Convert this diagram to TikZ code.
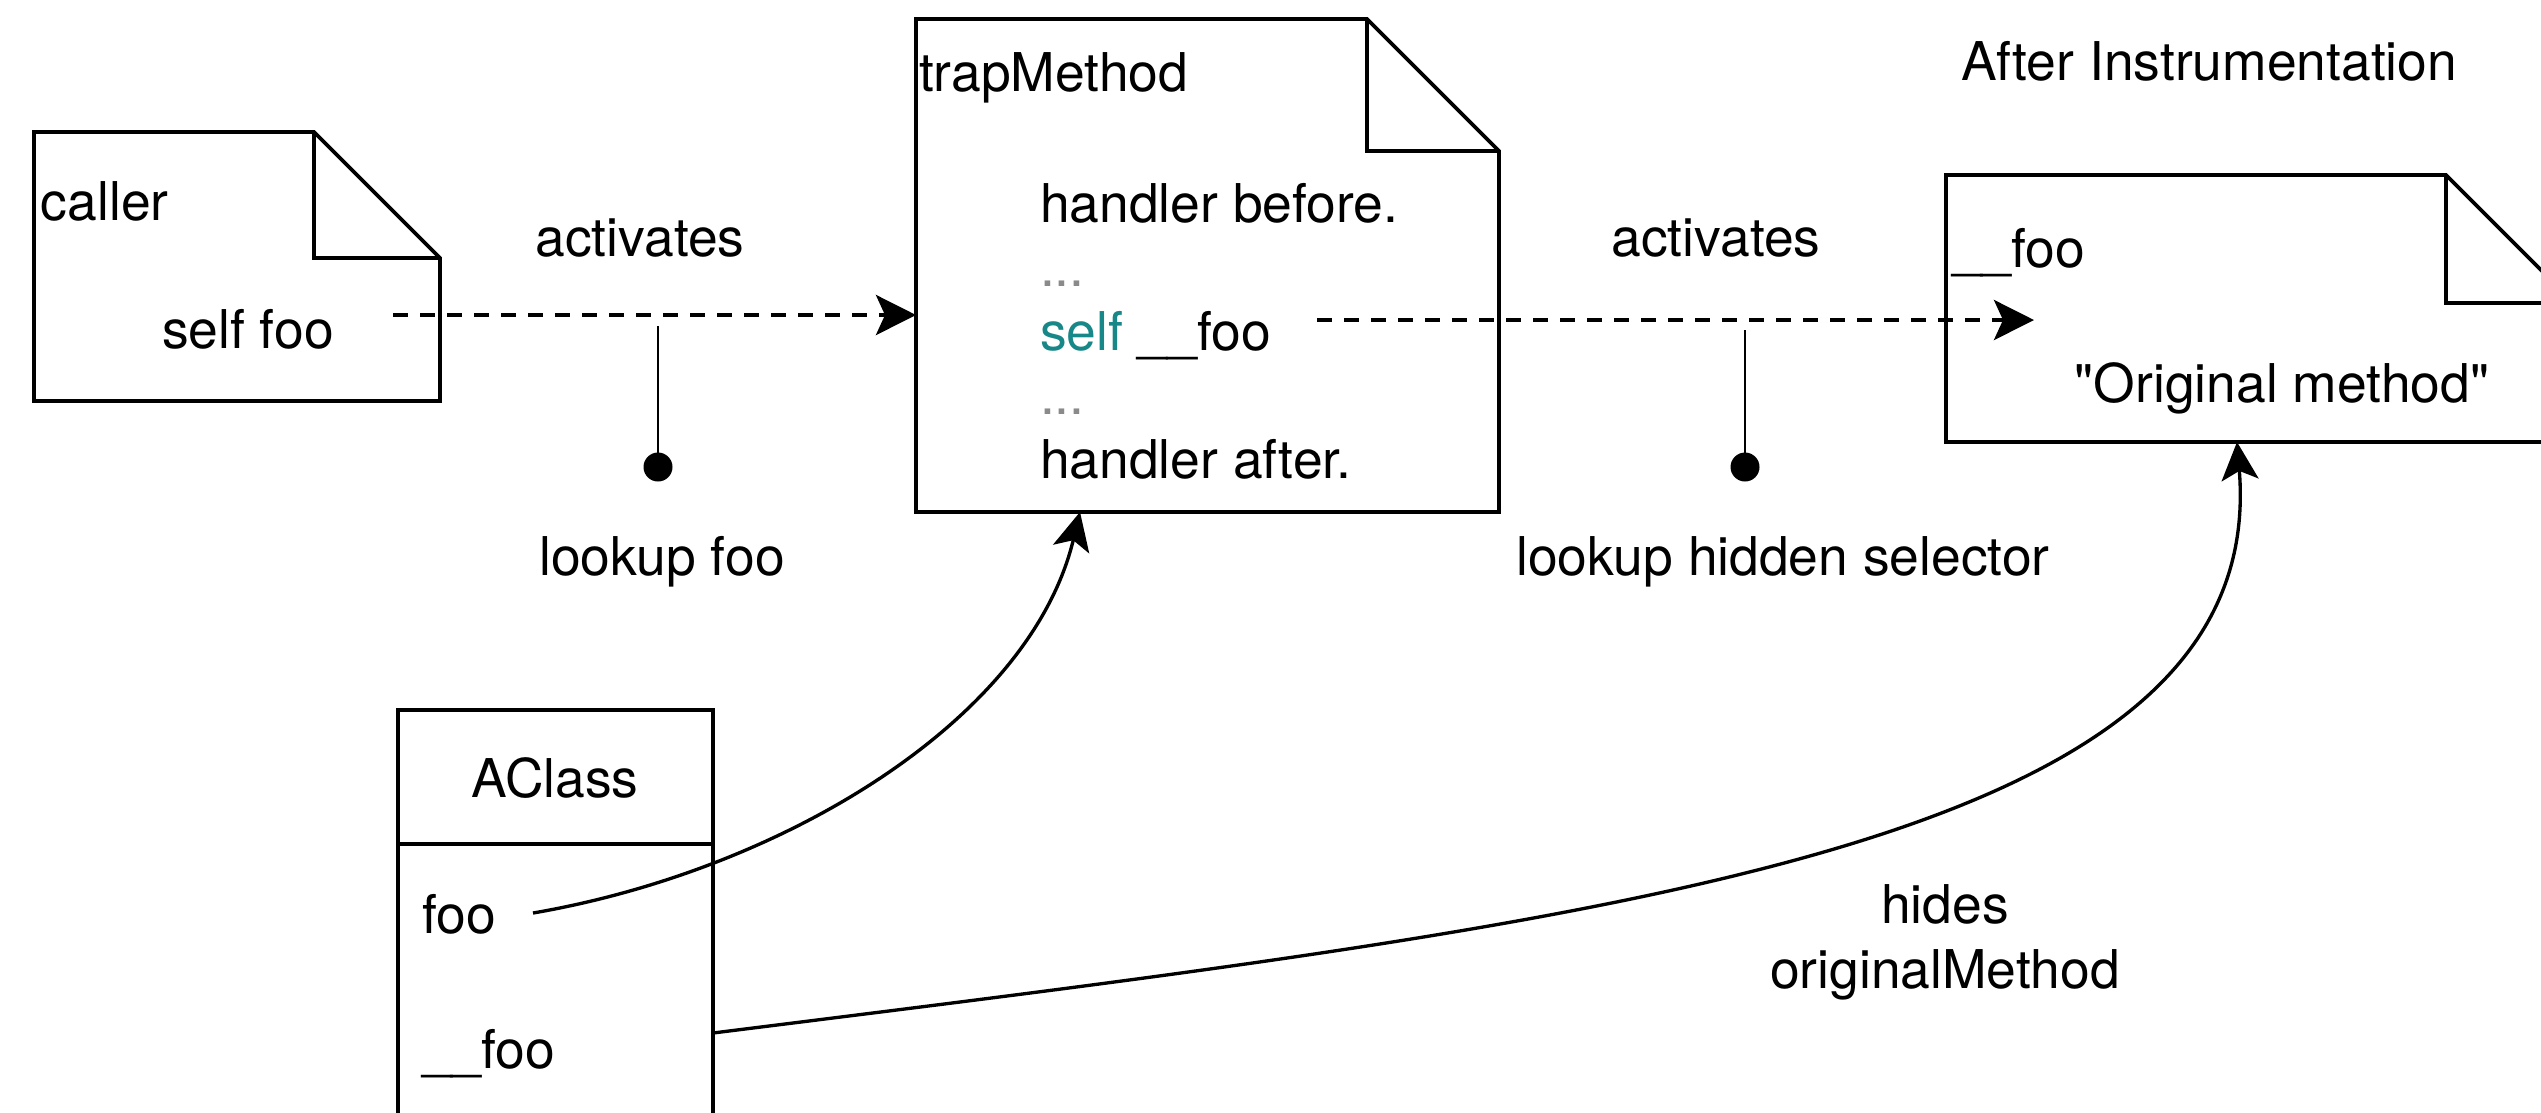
\documentclass[tikz,border=0pt]{standalone}
\usepackage{fontspec}
\setmainfont{TeX Gyre Heros}
\usepackage{xcolor}
\usetikzlibrary{arrows.meta, calc, positioning}
\definecolor{selfteal}{HTML}{178787}
\definecolor{dotgray}{HTML}{8A8A8A}

\tikzset{
  docline/.style={line width=1.1pt, line join=miter},
  box/.style={inner sep=0pt, outer sep=0pt},
  txt/.style={inner sep=0pt, outer sep=0pt, anchor=base west},
  ctxt/.style={inner sep=0pt, outer sep=0pt, anchor=base},
  activate/.style={dash pattern=on 1.5mm off 1.2mm, line width=1.2pt,
    -{Stealth[length=4mm, width=4mm, inset=0.9mm]}},
  curvearrow/.style={line width=0.95pt,
    -{Stealth[length=3.8mm, width=3.7mm, inset=0.9mm]}},
  pinline/.style={line width=0.75pt},
  pindot/.style={circle, fill, inner sep=0pt, minimum size=2.9mm},
}

% note shape with a folded corner, #1 = node, #2 = fold size
\newcommand{\notedoc}[2]{%
  \draw[docline] (#1.north west) -- ($(#1.north east)+(-#2,0)$)
    -- ($(#1.north east)+(0,#2)$) -- (#1.south east) -- (#1.south west) -- cycle;
  \draw[docline] ($(#1.north east)+(-#2,0)$) -- ($(#1.north east)+(-#2,#2)$)
    -- ($(#1.north east)+(0,#2)$);
}

\begin{document}
\begin{tikzpicture}[x=0.1mm, y=-0.1mm, line cap=butt, font=\fontsize{15.2}{18}\selectfont]
\useasboundingbox (0,0) rectangle (2541,1112);
\clip (0,0) rectangle (2541,1112);

% --- Documents ---
\node[box, anchor=north west, minimum width=40.6mm, minimum height=26.9mm] (caller) at (34,132) {};
\notedoc{caller}{126}
\node[box, anchor=north west, minimum width=58.3mm, minimum height=49.3mm] (trap) at (916,19) {};
\notedoc{trap}{132}
\node[box, anchor=north west, minimum width=62.8mm, minimum height=26.7mm] (orig) at (1946,175) {};
\notedoc{orig}{128}

% --- Class box ---
\node[box, draw, line width=1.1pt, anchor=north west, minimum width=31.5mm, minimum height=13.4mm] (aclass) at (398,710) {};
\node[box, draw, line width=1.1pt, below=0pt of aclass, minimum width=31.5mm, minimum height=40mm] (members) {};

% --- Texts ---
\node[txt] (title) at (1961,80) {After Instrumentation};
\node[txt] (callername) at (41,220) {caller};
\node[txt] (selffoo) at (162,348) {self foo};
\node[txt] (trapname) at (919,91) {trapMethod};
\node[txt] (before) at (1040,222) {handler before.};
\node[txt, dotgray] (dotsa) at (1040,286) {...};
\node[txt] (callhidden) at (1040,350) {\textcolor{selfteal}{self} \_\_foo};
\node[txt, dotgray] (dotsb) at (1040,414) {...};
\node[txt] (after) at (1040,478) {handler after.};
\node[txt] (hiddenname) at (1952,267) {\_\_foo};
\node[ctxt] (origtext) at (2282,402) {\textquotedbl Original method\textquotedbl};
\node[ctxt] (classname) at (555,797) {AClass};
\node[txt] (foo) at (422,933) {foo};
\node[txt] (hiddenfoo) at (422,1068) {\_\_foo};

% --- Edge labels ---
\node[ctxt] (act1) at (640,256) {activates};
\node[ctxt] (act2) at (1716,256) {activates};
\node[ctxt] (lookup1) at (662,575) {lookup foo};
\node[ctxt] (lookup2) at (1783,575) {lookup hidden selector};
\node[ctxt] (hides) at (1945,923) {hides};
\node[ctxt] (hidesb) at (1945,988) {originalMethod};

% --- Activation arrows ---
\coordinate (selffooOut) at (393,315);
\draw[activate] (selffooOut) -- (selffooOut -| trap.west);
\coordinate (callOut) at (1317,320);
\coordinate (callIn) at (2034,320);
\draw[activate] (callOut) -- (callIn);

% --- Lookup pins ---
\coordinate (lk1top) at (658,326);
\node[pindot] (lk1) at (658,467) {};
\draw[pinline] (lk1top) -- (lk1.center);
\coordinate (lk2top) at (1745,330);
\node[pindot] (lk2) at (1745,467) {};
\draw[pinline] (lk2top) -- (lk2.center);

% --- Class links ---
\coordinate (fooOut) at (533,913);
\draw[curvearrow] (fooOut) .. controls (783,870) and (1030,720) .. ($(trap.south west)+(164,0)$);
\coordinate (hiddenOut) at (members.east |- 0,1033);
\draw[curvearrow] (hiddenOut) .. controls (1613,920) and (2270,850) .. ($(orig.south west)+(291,0)$);
\end{tikzpicture}
\end{document}
